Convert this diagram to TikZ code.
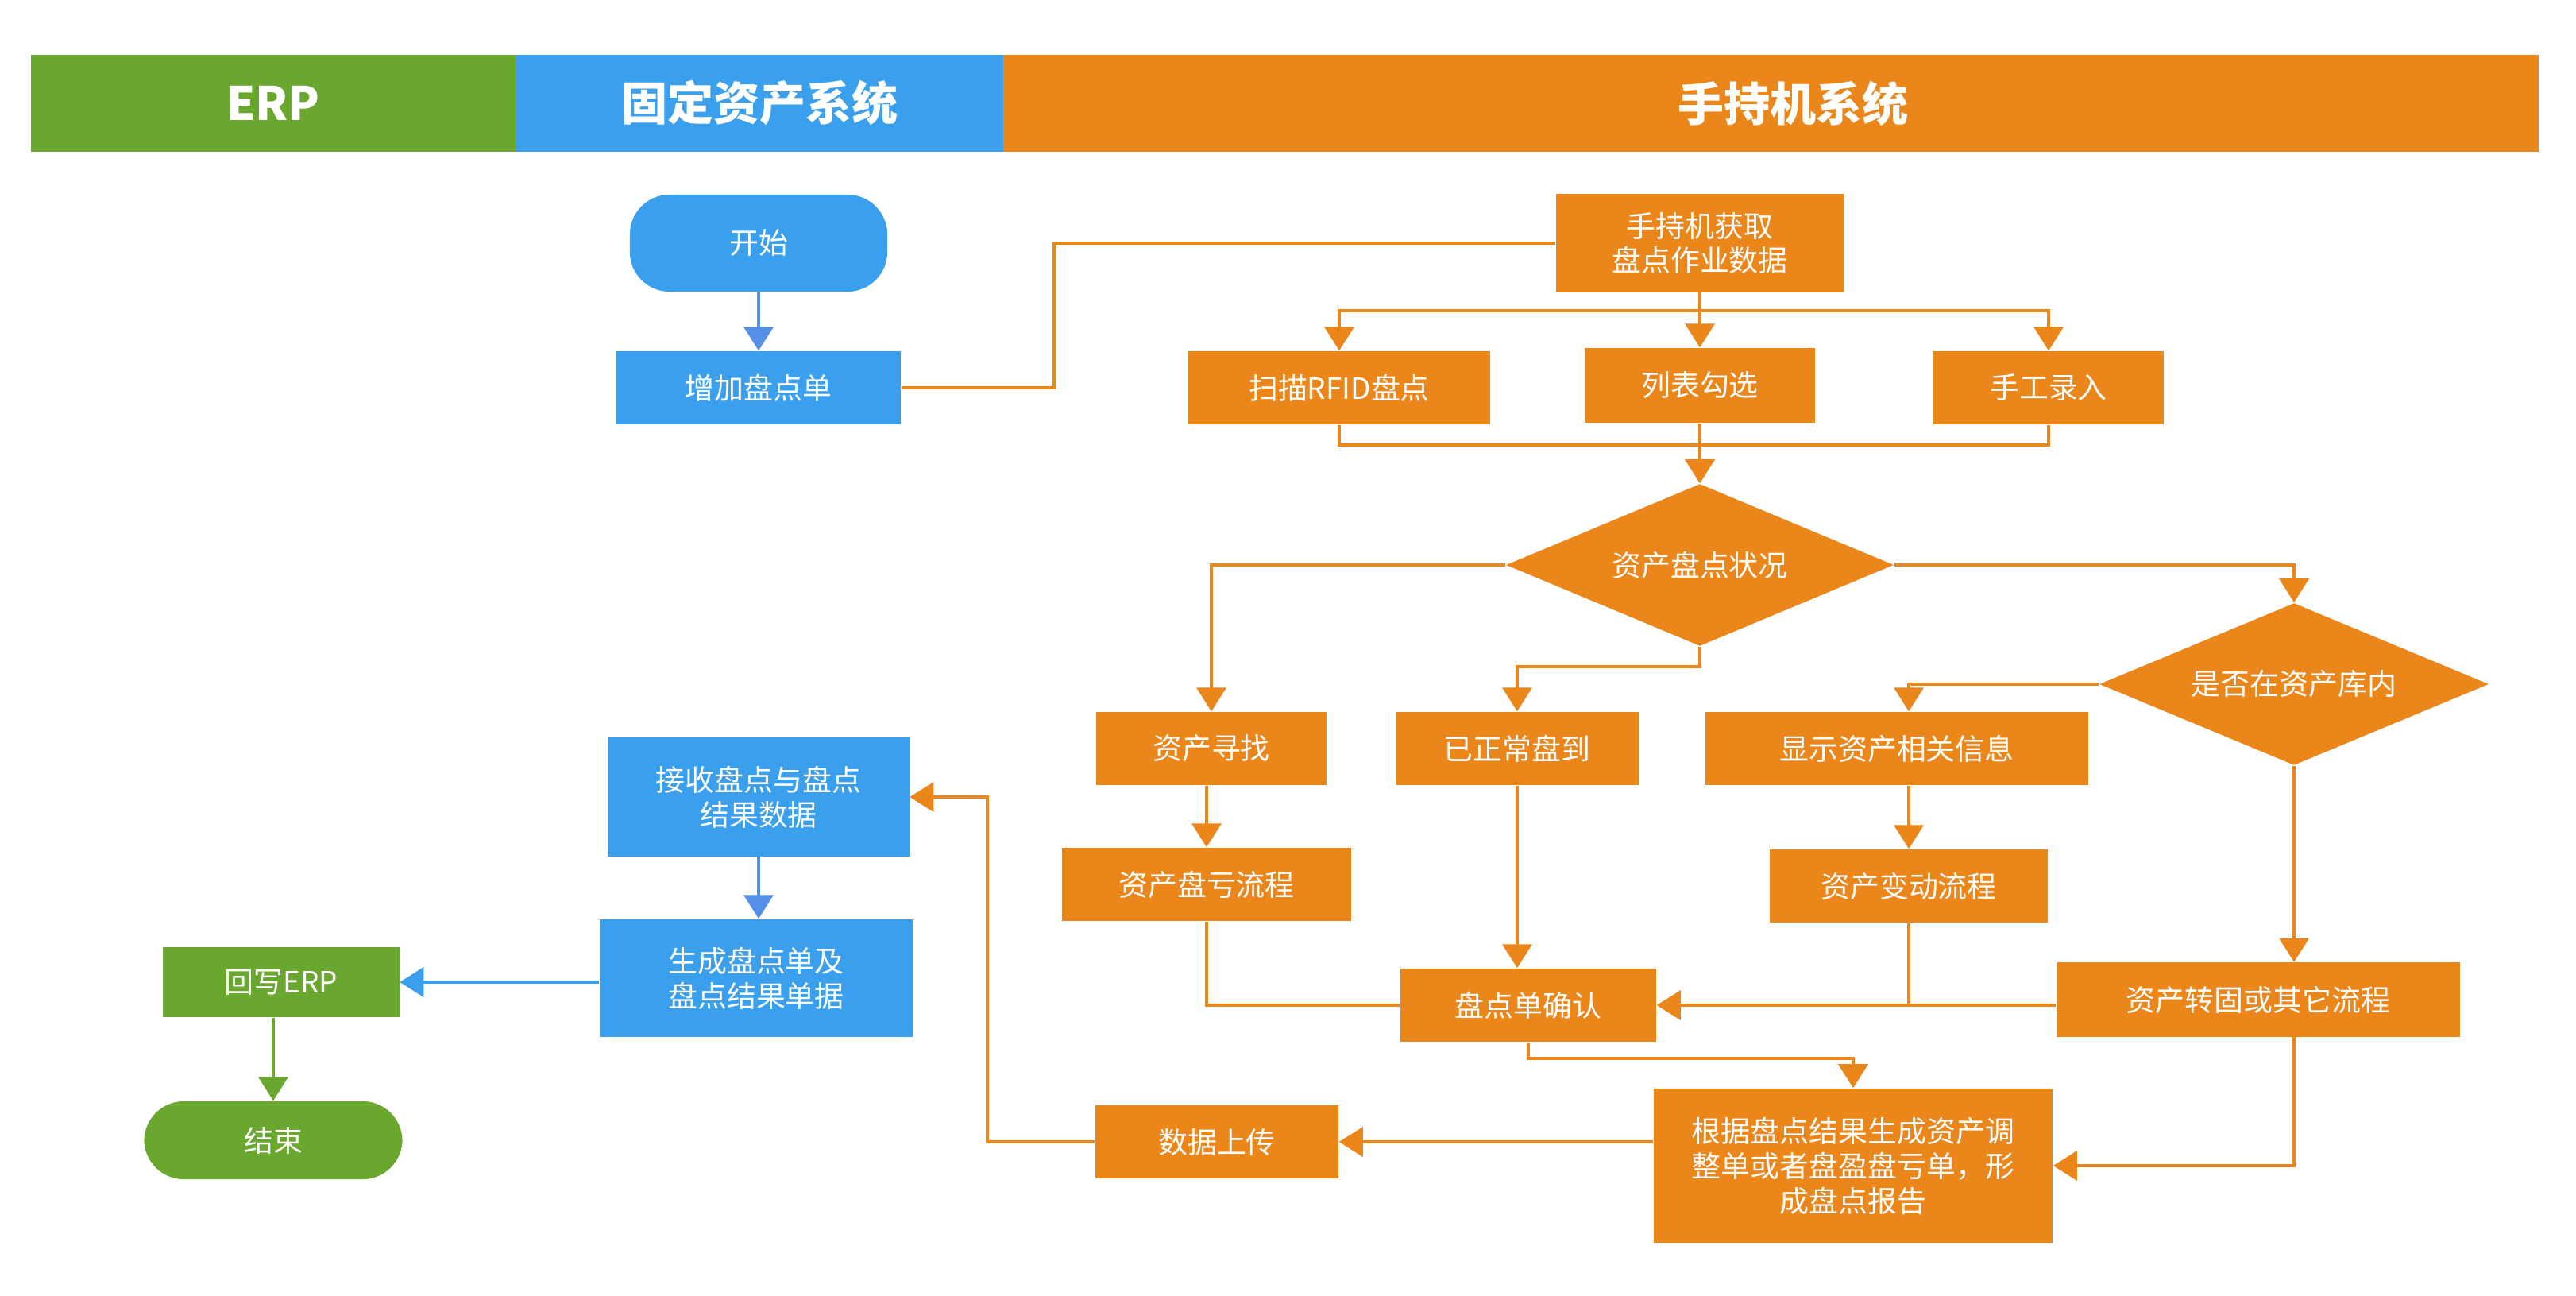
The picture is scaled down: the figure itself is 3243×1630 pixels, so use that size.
\documentclass[tikz,border=0pt]{standalone}
\usepackage{fontspec}
\setmainfont{Noto Sans CJK SC}
\usetikzlibrary{arrows.meta,shapes.geometric}
\definecolor{erpgreen}{HTML}{6AA72F}
\definecolor{fablue}{HTML}{3AA0EE}
\definecolor{pdaorange}{HTML}{EA861A}
\definecolor{flowblue}{HTML}{5590E6}

\begin{document}
\begin{tikzpicture}[x=0.01cm,y=-0.01cm,>={Triangle[length=0.3cm,width=0.37cm]},
header/.style={minimum height=1.22cm,inner sep=0pt,text=white,font=\fontsize{16.5}{20}\selectfont\bfseries},
box/.style={rectangle,inner sep=0pt,text=white,align=center,font=\fontsize{10.5}{12.5}\selectfont},
pdabox/.style={box,fill=pdaorange},fabox/.style={box,fill=fablue},erpbox/.style={box,fill=erpgreen},
terminal/.style={rounded corners=0.5cm},
decision/.style={diamond,aspect=2.4,fill=pdaorange,inner sep=0pt,text=white,font=\fontsize{10.5}{12.5}\selectfont},
flow/.style={->,line width=1.1pt,draw=pdaorange},link/.style={line width=1.1pt,draw=pdaorange}]
\fill[white] (0,0) rectangle (3243,1630);
\node[header,fill=erpgreen,minimum width=6.1cm] (hErp) at (344,130) {ERP};
\node[header,fill=fablue,minimum width=6.15cm] (hFa) at (956.5,130) {固定资产系统};
\node[header,fill=pdaorange,minimum width=19.31cm] (hPda) at (2229.5,130) {\hspace*{0.56cm}手持机系统};
\node[fabox,terminal,minimum width=3.24cm,minimum height=1.22cm] (start) at (955,306) {开始};
\node[fabox,minimum width=3.58cm,minimum height=0.92cm] (add) at (955,488) {增加盘点单};
\node[pdabox,minimum width=3.62cm,minimum height=1.23cm] (fetch) at (2140,306) {手持机获取\\盘点作业数据};
\node[pdabox,minimum width=3.8cm,minimum height=0.92cm] (rfid) at (1686,488) {扫描RFID盘点};
\node[pdabox,minimum width=2.89cm,minimum height=0.94cm] (pick) at (2140,485) {列表勾选};
\node[pdabox,minimum width=2.9cm,minimum height=0.92cm] (manual) at (2579,488) {手工录入};
\node[decision,minimum width=4.88cm,minimum height=2.04cm] (status) at (2140,711) {资产盘点状况};
\node[pdabox,minimum width=2.89cm,minimum height=0.92cm] (seek) at (1525,942) {资产寻找};
\node[pdabox,minimum width=3.06cm,minimum height=0.92cm] (normal) at (1910,942) {已正常盘到};
\node[pdabox,minimum width=4.81cm,minimum height=0.92cm] (show) at (2388,942) {显示资产相关信息};
\node[decision,minimum width=4.9cm,minimum height=2.04cm] (inlib) at (2888,861) {是否在资产库内};
\node[pdabox,minimum width=3.63cm,minimum height=0.92cm] (loss) at (1519,1113) {资产盘亏流程};
\node[pdabox,minimum width=3.49cm,minimum height=0.92cm] (change) at (2403,1115) {资产变动流程};
\node[pdabox,minimum width=3.22cm,minimum height=0.92cm] (confirm) at (1924,1265) {盘点单确认};
\node[pdabox,minimum width=5.08cm,minimum height=0.93cm] (transfer) at (2843,1258) {资产转固或其它流程};
\node[pdabox,minimum width=5.02cm,minimum height=1.94cm] (report) at (2333,1467) {根据盘点结果生成资产调\\整单或者盘盈盘亏单，形\\成盘点报告};
\node[pdabox,minimum width=3.06cm,minimum height=0.91cm] (upload) at (1532,1437) {数据上传};
\node[fabox,minimum width=3.79cm,minimum height=1.49cm] (recv) at (955,1003) {接收盘点与盘点\\结果数据};
\node[fabox,minimum width=3.94cm,minimum height=1.48cm] (gen) at (952,1231) {生成盘点单及\\盘点结果单据};
\node[erpbox,minimum width=2.97cm,minimum height=0.88cm] (back) at (354,1236) {回写ERP};
\node[erpbox,terminal,minimum width=3.25cm,minimum height=0.98cm] (finish) at (344,1435) {结束};
\coordinate (bend) at (1327,306);
\coordinate (split) at (2140,391);
\coordinate (merge) at (2140,560);
\coordinate (loop) at (1243,1003);
\draw[flow,draw=flowblue] (start.south) -- (add.north);
\draw[link] (add.east) -| (bend) -- (fetch.west);
\draw[link] (fetch.south) -- (split);
\draw[flow] (split) -| (rfid.north);
\draw[flow] (split) -| (manual.north);
\draw[flow] (split) -- (pick.north);
\draw[link] (rfid.south) |- (merge);
\draw[link] (manual.south) |- (merge);
\draw[flow] (pick.south) -- (status.north);
\draw[flow] (status.west) -| (seek.north);
\draw[flow] (status.south) -- ++(0,25) -| (normal.north);
\draw[flow] (status.east) -| (inlib.north);
\draw[flow] (inlib.west) -| (change.north |- show.north);
\draw[flow] (loss.north |- seek.south) -- (loss.north);
\draw[flow] (normal.south) -- (normal.south |- confirm.north);
\draw[flow] (change.north |- show.south) -- (change.north);
\draw[flow] (inlib.south) -- (inlib.south |- transfer.north);
\draw[link] (loss.south) |- (confirm.west);
\draw[link] (change.south) -- (change.south |- confirm.east);
\draw[flow] (transfer.west |- confirm.east) -- (confirm.east);
\draw[flow] (confirm.south) -- ++(0,20) -| (report.north);
\draw[flow] (inlib.south |- transfer.south) |- (report.east);
\draw[flow] (report.west |- upload.east) -- (upload.east);
\draw[flow] (upload.west) -| (loop) -- (recv.east);
\draw[flow,draw=flowblue] (recv.south) -- (recv.south |- gen.north);
\draw[flow,draw=fablue] (gen.west |- back.east) -- (back.east);
\draw[flow,draw=erpgreen] (finish.north |- back.south) -- (finish.north);
\end{tikzpicture}
\end{document}
